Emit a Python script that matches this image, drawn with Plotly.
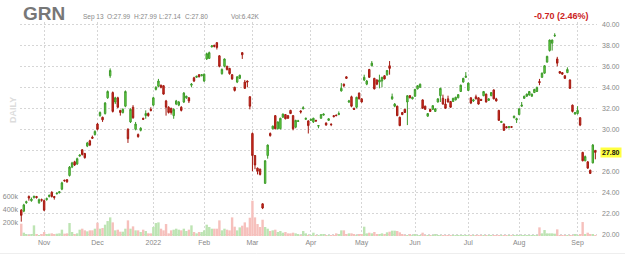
import plotly.graph_objects as go

# ---- data ----
symbol = "GRN"
header_items = ["Sep 13", "O:27.99", "H:27.99", "L:27.14", "C:27.80", "Vol:6.42K"]
change_text = "-0.70 (2.46%)"
last_price = 27.80

opens = [
    22.3, 22.2, 23.0, 23.6, 23.2, 23.5, 23.6, 23.0, 23.3, 23.2,
    23.3, 23.6, 24.0, 23.6, 23.85, 23.95, 24.3, 25.15, 25.2, 25.6,
    26.4, 26.9, 26.7, 27.45, 28.05, 27.7, 28.4, 28.9, 29.25, 29.5,
    30.5, 31.3, 31.15, 31.5, 33.0, 35.1, 33.5, 32.6, 33.0, 31.8,
    31.6, 32.2, 30.0, 30.7, 32.1, 30.0, 29.5, 29.9, 31.05, 31.3,
    31.5, 31.9, 32.3, 33.8, 34.1, 34.2, 34.15, 32.7, 32.1, 32.0,
    31.3, 32.4, 32.3, 32.1, 32.6, 33.0, 33.0, 34.2, 34.9, 34.95,
    35.2, 35.1, 34.6, 36.7, 36.75, 37.85, 38.0, 38.25, 37.0, 35.3,
    36.0, 36.0, 35.8, 35.2, 34.0, 34.5, 34.85, 37.3, 34.5, 34.6,
    33.1, 29.6, 27.5, 26.3, 26.2, 22.9, 24.85, 27.5, 29.6, 30.05,
    31.3, 30.05, 30.05, 31.15, 31.4, 31.3, 31.8, 31.3, 30.2, 30.75,
    31.75, 31.95, 30.95, 30.8, 30.85, 30.7, 30.85, 30.3, 31.05, 31.35,
    30.6, 30.85, 30.5, 31.3, 31.35, 31.4, 33.65, 34.3, 35.0, 32.6,
    33.1, 32.0, 32.1, 33.45, 32.9, 34.7, 34.3, 35.7, 36.05, 34.85,
    34.7, 34.5, 34.6, 35.1, 35.2, 36.05, 32.9, 32.2, 32.2, 31.15,
    31.6, 31.9, 32.6, 33.2, 32.9, 33.15, 33.85, 34.0, 32.8, 32.2,
    31.25, 31.9, 31.9, 31.7, 32.6, 33.2, 32.95, 32.4, 32.9, 32.65,
    32.65, 32.8, 33.0, 33.6, 34.5, 34.95, 33.7, 33.0, 32.7, 33.1,
    33.0, 32.85, 33.2, 33.35, 32.75, 33.2, 33.75, 32.9, 31.8, 30.65,
    30.5, 30.25, 30.15, 30.25, 31.1, 30.9, 31.4, 32.2, 32.95, 33.15,
    33.27, 33.15, 33.5, 33.6, 34.55, 34.95, 35.35, 36.4, 37.5, 38.2,
    38.9, 36.7, 35.5, 35.4, 35.1, 35.4, 34.7, 32.3, 31.45, 31.5,
    31.1, 27.8, 27.0, 26.9, 26.1, 26.8, 27.99,
]
highs = [
    22.4, 22.9, 23.2, 23.7, 23.5, 23.7, 23.65, 23.4, 23.4, 23.3,
    23.5, 23.8, 24.1, 23.65, 24.0, 24.1, 25.0, 25.2, 25.25, 26.5,
    26.9, 27.0, 27.3, 27.6, 28.1, 27.75, 28.8, 29.0, 29.4, 29.9,
    30.6, 31.7, 31.2, 32.6, 33.7, 35.8, 33.6, 33.1, 33.1, 31.85,
    32.0, 33.7, 30.1, 32.0, 32.3, 30.7, 29.6, 30.2, 31.1, 31.8,
    31.6, 32.1, 33.1, 34.1, 34.8, 34.25, 34.2, 32.8, 32.2, 32.05,
    32.0, 32.8, 32.7, 32.2, 33.55, 33.2, 33.05, 34.4, 35.0, 35.1,
    35.25, 35.25, 35.3, 37.3, 37.4, 38.0, 38.05, 38.3, 37.05, 35.8,
    36.75, 36.05, 35.85, 35.25, 34.05, 35.05, 35.2, 37.35, 34.7, 34.65,
    33.15, 29.7, 27.55, 26.35, 26.25, 22.95, 27.05, 28.55, 29.7, 30.35,
    31.35, 30.75, 31.1, 31.5, 31.45, 31.35, 31.85, 31.35, 30.9, 30.9,
    31.8, 32.2, 31.1, 30.85, 31.0, 31.1, 30.9, 30.4, 31.45, 31.5,
    30.65, 31.05, 30.55, 31.35, 31.4, 31.7, 34.4, 34.35, 35.05, 32.8,
    33.2, 32.05, 33.1, 33.5, 32.95, 35.2, 34.7, 35.75, 36.5, 34.9,
    34.75, 35.2, 35.0, 35.15, 35.65, 36.5, 33.4, 32.5, 32.25, 31.2,
    31.65, 31.95, 33.25, 33.25, 33.1, 33.85, 34.2, 34.35, 32.85, 32.25,
    31.55, 31.95, 32.3, 32.0, 32.95, 33.95, 33.3, 32.9, 33.2, 32.7,
    33.0, 33.1, 33.35, 34.25, 34.9, 35.45, 34.45, 33.05, 32.9, 33.3,
    33.05, 32.9, 33.65, 33.4, 32.95, 33.55, 33.8, 33.0, 31.85, 30.8,
    30.55, 30.3, 30.3, 30.3, 31.3, 31.1, 32.0, 32.6, 33.2, 33.4,
    33.65, 33.4, 33.85, 34.05, 34.8, 35.4, 36.1, 37.0, 38.55, 38.55,
    39.15, 36.9, 35.55, 35.45, 35.15, 35.9, 34.75, 32.35, 31.65, 32.2,
    31.15, 27.85, 27.5, 26.95, 26.15, 28.6, 27.99,
]
lows = [
    21.2, 22.1, 22.9, 23.2, 23.1, 23.4, 23.4, 22.9, 23.1, 22.2,
    23.2, 23.5, 23.5, 23.3, 23.8, 23.9, 24.2, 25.0, 24.9, 25.5,
    26.3, 26.5, 26.6, 27.4, 27.5, 27.2, 28.3, 28.4, 29.1, 29.4,
    29.9, 31.2, 30.7, 31.4, 32.9, 34.9, 31.6, 32.4, 32.0, 31.3,
    31.5, 32.1, 28.7, 30.6, 31.0, 29.9, 29.2, 29.8, 30.9, 31.0,
    31.2, 31.7, 32.2, 33.7, 34.0, 33.9, 33.3, 31.3, 31.5, 31.4,
    31.0, 32.3, 32.2, 31.7, 32.5, 32.9, 32.5, 34.0, 34.5, 34.9,
    34.95, 35.05, 34.5, 36.6, 36.7, 37.8, 37.8, 37.6, 35.9, 35.2,
    35.9, 35.6, 35.2, 34.7, 33.6, 34.4, 34.8, 36.7, 33.85, 34.0,
    31.9, 26.0, 26.2, 25.7, 25.6, 22.4, 24.8, 27.2, 29.3, 30.0,
    30.0, 30.0, 30.0, 31.1, 30.95, 31.0, 31.45, 29.9, 30.1, 30.7,
    31.5, 31.9, 30.9, 29.6, 30.8, 30.6, 30.7, 30.1, 31.0, 31.3,
    30.35, 30.8, 30.3, 31.15, 31.25, 31.35, 33.6, 34.0, 34.8, 32.5,
    32.1, 31.85, 32.0, 32.85, 32.55, 34.6, 34.2, 34.9, 36.0, 33.8,
    34.2, 33.9, 34.0, 34.75, 35.1, 35.2, 32.8, 32.1, 31.25, 30.3,
    31.35, 31.55, 30.4, 32.95, 32.85, 33.1, 33.8, 33.95, 31.95, 31.85,
    31.2, 31.65, 31.85, 31.65, 32.55, 32.6, 32.35, 31.95, 32.55, 32.05,
    32.6, 32.75, 32.95, 33.55, 34.45, 34.9, 33.65, 32.4, 32.6, 32.85,
    32.35, 32.7, 33.15, 32.55, 32.7, 33.15, 32.85, 32.65, 30.8, 30.6,
    29.85, 30.1, 30.1, 30.15, 31.05, 30.6, 31.35, 32.15, 32.9, 33.1,
    33.2, 33.1, 33.45, 33.55, 34.2, 34.9, 35.3, 36.35, 37.4, 37.5,
    38.8, 36.0, 35.3, 35.2, 34.8, 35.35, 33.85, 31.6, 31.4, 31.4,
    30.3, 26.95, 26.95, 26.25, 25.75, 26.75, 27.14,
]
closes = [
    21.8, 22.8, 23.1, 23.45, 23.35, 23.6, 23.5, 23.3, 23.25, 22.3,
    23.4, 23.7, 23.6, 23.5, 23.9, 24.05, 24.9, 25.1, 25.0, 26.4,
    26.8, 26.6, 27.2, 27.55, 27.6, 27.3, 28.7, 28.5, 29.15, 29.8,
    30.0, 31.6, 30.9, 32.5, 33.6, 35.6, 31.7, 33.0, 32.1, 31.6,
    31.9, 33.6, 29.1, 31.9, 31.1, 30.5, 29.3, 30.1, 30.95, 31.5,
    31.3, 31.8, 33.0, 34.0, 34.6, 34.0, 33.35, 32.1, 31.6, 31.6,
    31.9, 32.7, 32.6, 31.8, 33.45, 33.15, 32.7, 34.3, 34.6, 35.05,
    35.0, 35.2, 35.25, 37.2, 37.3, 37.95, 37.9, 37.8, 36.0, 35.7,
    36.7, 35.7, 35.3, 34.8, 33.7, 35.0, 35.15, 37.1, 33.9, 34.5,
    32.2, 27.5, 26.6, 26.0, 25.7, 22.5, 27.0, 28.5, 29.4, 30.3,
    30.05, 30.7, 31.05, 31.45, 31.0, 31.05, 31.5, 30.05, 30.85, 30.8,
    31.65, 32.05, 31.05, 30.35, 30.95, 31.05, 30.8, 30.35, 31.4, 31.45,
    30.4, 31.0, 30.45, 31.2, 31.3, 31.5, 33.9, 34.15, 34.85, 32.7,
    32.2, 31.9, 33.05, 32.9, 32.6, 34.95, 34.6, 34.95, 36.3, 33.85,
    34.3, 34.7, 34.95, 34.8, 35.6, 35.8, 33.1, 32.4, 31.3, 30.35,
    31.4, 31.6, 33.2, 33.0, 33.05, 33.8, 34.15, 34.3, 32.0, 31.9,
    31.5, 31.7, 32.25, 31.95, 32.9, 33.9, 32.4, 32.0, 32.6, 32.1,
    32.95, 33.05, 33.3, 34.2, 34.85, 35.05, 34.4, 32.5, 32.8, 32.9,
    32.4, 32.75, 33.6, 32.6, 32.9, 33.5, 32.9, 32.7, 30.85, 30.75,
    29.9, 30.15, 30.25, 30.2, 31.25, 31.0, 31.95, 32.3, 33.15, 33.35,
    33.6, 33.35, 33.8, 34.0, 34.45, 35.35, 36.05, 36.95, 38.5, 38.5,
    38.95, 36.3, 35.35, 35.25, 34.85, 35.7, 33.9, 31.7, 31.6, 31.8,
    30.4, 27.0, 27.4, 26.3, 25.8, 28.5, 27.8,
]
volumes_k = [
    185, 50, 20, 15, 20, 160, 20, 15, 20, 60,
    30, 35, 40, 30, 35, 40, 95, 35, 40, 195,
    60, 30, 40, 95, 110, 85, 70, 85, 85, 110,
    200, 110, 120, 170, 225, 280, 205, 85, 95, 65,
    65, 110, 235, 110, 145, 85, 85, 60, 95, 75,
    40, 40, 135, 195, 205, 110, 85, 180, 40, 85,
    95, 110, 95, 85, 110, 75, 95, 160, 60, 40,
    60, 60, 85, 170, 135, 110, 110, 110, 235, 85,
    110, 95, 85, 280, 140, 85, 130, 155, 205, 130,
    275, 530, 280, 180, 135, 245, 135, 110, 75, 85,
    95, 60, 75, 50, 60, 40, 40, 50, 40, 30,
    15, 75, 40, 15, 15, 50, 15, 15, 30, 20,
    15, 15, 15, 10, 40, 20, 85, 85, 30, 40,
    40, 30, 15, 20, 20, 140, 40, 50, 40, 60,
    30, 30, 40, 20, 55, 65, 80, 80, 75, 55,
    20, 15, 15, 20, 15, 20, 15, 15, 50, 15,
    10, 15, 15, 30, 15, 10, 15, 15, 10, 15,
    15, 15, 10, 10, 15, 10, 10, 5, 10, 5,
    10, 10, 5, 10, 5, 5, 10, 10, 10, 10,
    5, 5, 5, 10, 5, 5, 10, 5, 5, 5,
    10, 10, 5, 10, 130, 40, 90, 40, 40, 40,
    35, 100, 10, 10, 15, 15, 15, 10, 20, 15,
    25, 210, 30, 50, 30, 20, 6.42,
]
month_idx = [9, 30, 52, 72, 91, 114, 134, 155, 176, 196, 219]
month_lbl = ["Nov", "Dec", "2022", "Feb", "Mar", "Apr", "May", "Jun", "Jul", "Aug", "Sep"]
price_ticks = [20, 22, 24, 26, 28, 30, 32, 34, 36, 38, 40]
vol_ticks = [200, 400, 600]
vol_lbl = ["200k", "400k", "600k"]

# ---- layout geometry ----
W, H = 625, 255
L, R, T, B = 20, 28, 22, 18
PW, PH = W - L - R, H - T - B
FONT = "Liberation Sans, Arial, sans-serif"
GRID = "#d6d6d6"


def px(xp):
    return (xp - L) / PW


def py(yp):
    return (H - B - yp) / PH


x = list(range(len(closes)))
vol_colors = ["#bde4b3" if c >= o else "#f6c0bc" for o, c in zip(opens, closes)]

fig = go.Figure()
fig.add_trace(go.Bar(
    x=x, y=volumes_k, yaxis="y", marker=dict(color=vol_colors, line=dict(width=0)),
    hoverinfo="skip", showlegend=False,
))
fig.add_trace(go.Candlestick(
    x=x, open=opens, high=highs, low=lows, close=closes, yaxis="y2",
    increasing=dict(line=dict(color="#3e9a2b", width=1), fillcolor="#6ade45"),
    decreasing=dict(line=dict(color="#a31b12", width=1), fillcolor="#d62a1e"),
    whiskerwidth=0, showlegend=False,
))

price_text = ["" if abs(v - last_price) < 0.5 else f"{v:.2f}" for v in price_ticks]

fig.update_layout(
    width=W, height=H,
    margin=dict(l=L, r=R, t=T, b=B, pad=0, autoexpand=False),
    paper_bgcolor="white", plot_bgcolor="white",
    showlegend=False, bargap=0.05, boxgap=0.2,
    font=dict(family=FONT, size=7, color="#888"),
    xaxis=dict(
        range=[-0.5, 226.65], tickmode="array", tickvals=month_idx, ticktext=month_lbl,
        showgrid=True, gridcolor=GRID, griddash="2px,2px", gridwidth=1,
        zeroline=False, showline=False, ticks="", automargin=False,
        tickfont=dict(size=7, color="#888"),
        rangeslider=dict(visible=False),
    ),
    yaxis=dict(
        range=[-15, 3218], tickmode="array", tickvals=vol_ticks, ticktext=vol_lbl,
        showgrid=False, zeroline=False, showline=False, ticks="", side="left",
        automargin=False, tickfont=dict(size=7, color="#888"), ticklabelstandoff=1,
    ),
    yaxis2=dict(
        overlaying="y", side="right", range=[19.74, 40.22],
        tickmode="array", tickvals=price_ticks, ticktext=price_text,
        showgrid=True, gridcolor=GRID, griddash="2px,2px", gridwidth=1,
        zeroline=False, showline=False, ticks="", automargin=False,
        tickfont=dict(size=7, color="#888"), ticklabelstandoff=4,
    ),
)

ann = []
ann.append(dict(text=f"<b>{symbol}</b>", x=px(21), y=py(13), xref="paper", yref="paper",
                xanchor="left", yanchor="middle", showarrow=False,
                font=dict(family=FONT, size=19, color="#777")))
for txt, xpos in zip(header_items, [80.5, 105, 131.5, 157, 183, 229]):
    ann.append(dict(text=txt, x=px(xpos), y=py(16.7), xref="paper", yref="paper",
                    xanchor="left", yanchor="middle", showarrow=False,
                    font=dict(family=FONT, size=6.5, color="#888")))
ann.append(dict(text=f"<b>{change_text}</b>", x=px(591), y=py(16.5), xref="paper", yref="paper",
                xanchor="right", yanchor="middle", showarrow=False,
                font=dict(family=FONT, size=9, color="#cc2222")))
ann.append(dict(text="<b>DAILY</b>", x=px(13), y=py(110), xref="paper", yref="paper",
                xanchor="center", yanchor="middle", showarrow=False, textangle=-90,
                font=dict(family=FONT, size=9, color="#dcdcdc")))
ann.append(dict(text=f"<b>{last_price:.2f}</b>", x=px(600), y=last_price, xref="paper", yref="y2",
                xanchor="left", yanchor="middle", showarrow=False, bgcolor="#ffff40",
                borderpad=1, font=dict(family=FONT, size=7, color="#111")))
fig.update_layout(annotations=ann)

fig.add_shape(type="line", xref="paper", yref="paper", x0=px(0), x1=px(W), y0=py(253.5), y1=py(253.5),
              line=dict(color="#eeeeee", width=1))

fig.write_html("out.html")
